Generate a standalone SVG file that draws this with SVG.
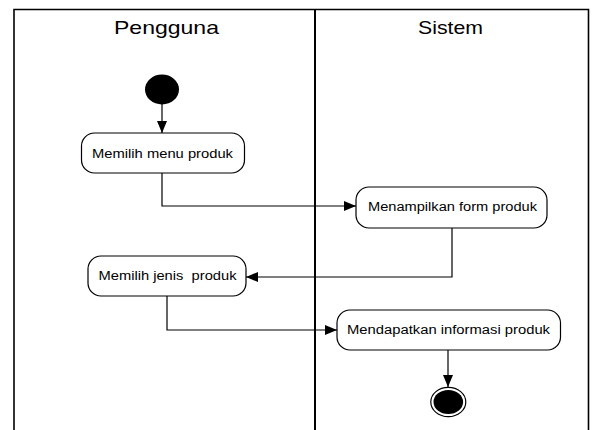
<svg xmlns="http://www.w3.org/2000/svg" width="592" height="430" viewBox="0 0 592 430">
<defs>
<style>
.frame{fill:none;stroke:#000;stroke-width:1.6}
.node rect{fill:#fff;stroke:#000;stroke-width:1.2}
.lbl{font-family:"Liberation Sans",Arial,sans-serif;font-size:12.5px;fill:#000;text-anchor:middle}
.title{font-family:"Liberation Sans",Arial,sans-serif;font-size:18.5px;fill:#000;text-anchor:middle}
.conn{fill:none;stroke:#000;stroke-width:1.2}
</style>
<marker id="arr" viewBox="0 0 12 10" refX="12" refY="5" markerWidth="12" markerHeight="10" markerUnits="userSpaceOnUse" orient="auto">
<path d="M0,0 L12,5 L0,10 Z" fill="#000"/>
</marker>
</defs>
<rect width="592" height="430" fill="#fff"/>
<g id="lanes">
<path class="frame" d="M14,431 V9.5 H588.5 V431"/>
<line x1="315" y1="9.5" x2="315" y2="431" stroke="#000" stroke-width="2"/>
<text class="title" x="166.5" y="34" textLength="105" lengthAdjust="spacingAndGlyphs">Pengguna</text>
<text class="title" x="450.5" y="34" textLength="65" lengthAdjust="spacingAndGlyphs">Sistem</text>
</g>
<g id="connectors">
<path class="conn" d="M162,104 V133" marker-end="url(#arr)"/>
<path class="conn" d="M162,173 V206 H356" marker-end="url(#arr)"/>
<path class="conn" d="M452,228 V277 H246" marker-end="url(#arr)"/>
<path class="conn" d="M167,296 V330 H337" marker-end="url(#arr)"/>
<path class="conn" d="M448,350 V387" marker-end="url(#arr)"/>
</g>
<g id="start">
<ellipse cx="162" cy="89.5" rx="17" ry="15" fill="#000"/>
</g>
<g id="n1" class="node">
<rect x="81.5" y="133" width="163" height="40" rx="13"/>
<text class="lbl" x="162.5" y="157.5" textLength="141" lengthAdjust="spacingAndGlyphs">Memilih menu produk</text>
</g>
<g id="n2" class="node">
<rect x="356" y="187" width="191" height="41" rx="13"/>
<text class="lbl" x="452.5" y="211" textLength="169" lengthAdjust="spacingAndGlyphs">Menampilkan form produk</text>
</g>
<g id="n3" class="node">
<rect x="88" y="256" width="158" height="40" rx="13"/>
<text class="lbl" x="167.5" y="280" textLength="138" lengthAdjust="spacingAndGlyphs" xml:space="preserve">Memilih jenis  produk</text>
</g>
<g id="n4" class="node">
<rect x="337" y="310" width="223.5" height="40" rx="13"/>
<text class="lbl" x="448.5" y="334" textLength="203" lengthAdjust="spacingAndGlyphs">Mendapatkan informasi produk</text>
</g>
<g id="end">
<ellipse cx="448.3" cy="402" rx="17.5" ry="14.7" fill="#fff" stroke="#000" stroke-width="1.2"/>
<ellipse cx="448.3" cy="402" rx="14.8" ry="12" fill="#000"/>
</g>
</svg>
